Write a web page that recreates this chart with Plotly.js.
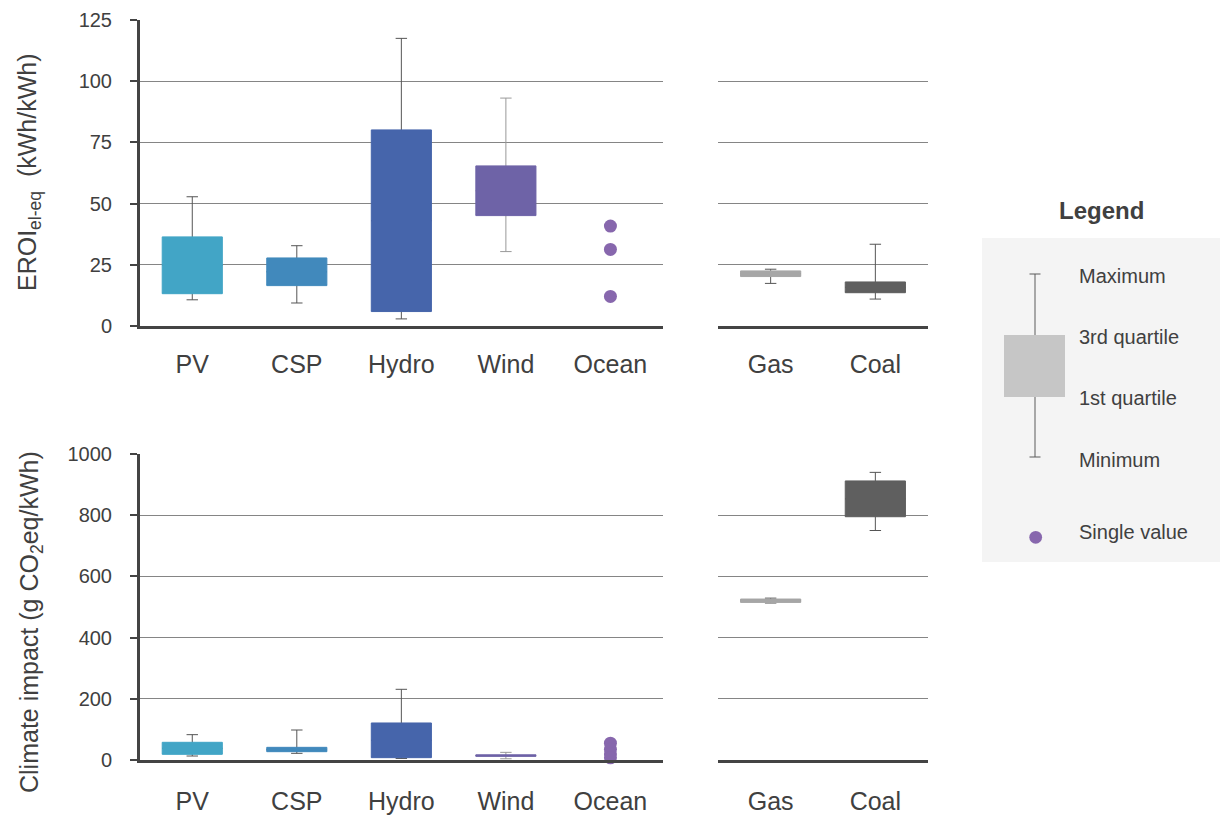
<!DOCTYPE html>
<html><head><meta charset="utf-8">
<script src="https://cdn.plot.ly/plotly-3.0.1.min.js"></script>
<style>html,body{margin:0;padding:0;background:#fff}#chart{width:1226px;height:816px}</style>
</head><body><div id="chart"></div>
<script>
// ---- data ----
const renewables = ['PV', 'CSP', 'Hydro', 'Wind', 'Ocean'];
const fossils = ['Gas', 'Coal'];
const boxCategories = ['PV', 'CSP', 'Hydro', 'Wind', 'Gas', 'Coal'];
const eroiMin = [10.7, 9.4, 2.9, 30.4, 17.4, 11.0];
const eroiQ1  = [13.2, 16.5, 5.9, 45.1, 20.2, 13.6];
const eroiQ3  = [36.4, 27.8, 80.1, 65.4, 22.5, 18.0];
const eroiMax = [52.8, 32.8, 117.5, 93.1, 23.2, 33.4];
const oceanEroi = [40.8, 31.3, 12.1];
const climateMin = [13, 21.8, 5, 4, 513, 750];
const climateQ1  = [18.5, 27.2, 7.6, 12, 515, 795];
const climateQ3  = [57.8, 41.4, 121, 17, 526, 912];
const climateMax = [82.8, 98, 231, 25, 529, 940];
const oceanClimate = [55, 35, 20, 7];
const eroiTicks = [0, 25, 50, 75, 100, 125];
const climateTicks = [0, 200, 400, 600, 800, 1000];
const legendLabels = ['Maximum', '3rd quartile', '1st quartile', 'Minimum', 'Single value'];

// ---- styles ----
const W = 1226, H = 816;
const FONT = 'Liberation Sans, Arial, sans-serif';
const TXT = '#404040';
const colors = {PV:'#42A5C6', CSP:'#4189BC', Hydro:'#4665AB', Wind:'#6E63A7', Gas:'#A6A6A6', Coal:'#5F5F5F'};
const whiskerColors = {PV:'#555555', CSP:'#555555', Hydro:'#555555', Wind:'#999999', Gas:'#555555', Coal:'#555555'};
const oceanColor = '#8767AD';
const BOXW = 0.575;
const px = x => x / W;
const py = y => 1 - y / H;

function boxTraces(mins, q1s, q3s, maxs, axL, axR) {
  const out = [];
  boxCategories.forEach((c, i) => {
    const ax = fossils.includes(c) ? axR : axL;
    const mid = (q1s[i] + q3s[i]) / 2;
    out.push({type:'box', x:[c], q1:[mid], median:[mid], q3:[mid],
      lowerfence:[mins[i]], upperfence:[maxs[i]], xaxis:ax[0], yaxis:ax[1],
      width:BOXW, whiskerwidth:0.19, fillcolor:'rgba(0,0,0,0)',
      line:{color:whiskerColors[c], width:1}, boxpoints:false, hoverinfo:'skip'});
    out.push({type:'box', x:[c], q1:[q1s[i]], median:[q1s[i]], q3:[q3s[i]],
      lowerfence:[q1s[i]], upperfence:[q3s[i]], xaxis:ax[0], yaxis:ax[1],
      width:BOXW, whiskerwidth:0, fillcolor:colors[c],
      line:{color:colors[c], width:1}, boxpoints:false, hoverinfo:'skip'});
  });
  return out;
}

const data = [].concat(
  boxTraces(eroiMin, eroiQ1, eroiQ3, eroiMax, ['x','y'], ['x2','y2']),
  boxTraces(climateMin, climateQ1, climateQ3, climateMax, ['x3','y3'], ['x4','y4']),
  [
    {type:'scatter', mode:'markers', x:oceanEroi.map(() => 'Ocean'), y:oceanEroi, xaxis:'x', yaxis:'y',
     marker:{size:13, color:oceanColor}, cliponaxis:false, hoverinfo:'skip'},
    {type:'scatter', mode:'markers', x:oceanClimate.map(() => 'Ocean'), y:oceanClimate, xaxis:'x3', yaxis:'y3',
     marker:{size:13, color:oceanColor}, cliponaxis:false, hoverinfo:'skip'}
  ]
);

const xDomL = [px(140), px(662.7)];
const xDomR = [px(718.3), px(927.7)];
const yDomT = [py(326), py(20)];
const yDomB = [py(760), py(454)];

function xAxis(cats, dom, anchor, standoff) {
  return {domain:dom, anchor:anchor, type:'category', categoryorder:'array', categoryarray:cats,
    range:[-0.5, cats.length - 0.5], showline:true, linecolor:'#444444', linewidth:3,
    ticks:'', showgrid:false, zeroline:false, ticklabelstandoff:standoff,
    tickfont:{family:FONT, size:25, color:TXT}, fixedrange:true};
}
function yAxis(dom, anchor, rng, ticks, left) {
  return {domain:dom, anchor:anchor, range:rng, tickvals:ticks, ticktext:ticks.map(String),
    showgrid:true, gridcolor:'#858585', gridwidth:1, zeroline:false,
    showline:left, linecolor:'#444444', linewidth:3,
    ticks:left ? 'outside' : '', ticklen:7, tickwidth:2, tickcolor:'#444444',
    showticklabels:left, ticklabelstandoff:14,
    tickfont:{family:FONT, size:20, color:TXT}, fixedrange:true};
}

const shapes = [
  {type:'rect', xref:'paper', yref:'paper', x0:px(982), x1:px(1220), y0:py(562), y1:py(238),
   fillcolor:'#F4F4F4', line:{width:0}, layer:'below'},
  {type:'line', xref:'paper', yref:'paper', x0:px(1035), x1:px(1035), y0:py(274), y1:py(457),
   line:{color:'#5a5a5a', width:1}},
  {type:'line', xref:'paper', yref:'paper', x0:px(1029.5), x1:px(1040.5), y0:py(274), y1:py(274),
   line:{color:'#5a5a5a', width:1}},
  {type:'line', xref:'paper', yref:'paper', x0:px(1029.5), x1:px(1040.5), y0:py(457), y1:py(457),
   line:{color:'#5a5a5a', width:1}},
  {type:'rect', xref:'paper', yref:'paper', x0:px(1004), x1:px(1065), y0:py(397), y1:py(335),
   fillcolor:'#C6C6C6', line:{width:0}},
  {type:'circle', xref:'paper', yref:'paper', x0:px(1029.3), x1:px(1042.1), y0:py(543.7), y1:py(530.9),
   fillcolor:oceanColor, line:{width:0}}
];

const legendY = [275.7, 336.7, 398.3, 460, 531.7];
const annotations = [
  {xref:'paper', yref:'paper', x:px(1101.7), y:py(211), xanchor:'center', yanchor:'middle', showarrow:false,
   text:'<b>Legend</b>', font:{family:FONT, size:24, color:TXT}},
  {xref:'paper', yref:'paper', x:px(29), y:py(172), xanchor:'center', yanchor:'middle', showarrow:false,
   textangle:-90, text:'EROI<sub>el-eq</sub>  (kWh/kWh)', font:{family:FONT, size:25, color:TXT}},
  {xref:'paper', yref:'paper', x:px(31), y:py(622), xanchor:'center', yanchor:'middle', showarrow:false,
   textangle:-90, text:'Climate impact (g CO<sub>2</sub>eq/kWh)', font:{family:FONT, size:25, color:TXT}}
].concat(legendLabels.map((t, i) => ({xref:'paper', yref:'paper', x:px(1077), y:py(legendY[i]),
   xanchor:'left', yanchor:'middle', showarrow:false, text:t, font:{family:FONT, size:20, color:TXT}})));

const layout = {
  width:W, height:H, margin:{l:0, r:0, t:0, b:0},
  paper_bgcolor:'#ffffff', plot_bgcolor:'#ffffff', showlegend:false, boxmode:'overlay',
  font:{family:FONT, color:TXT},
  xaxis:xAxis(renewables, xDomL, 'y', 14),
  yaxis:yAxis(yDomT, 'x', [0, 125], eroiTicks, true),
  xaxis2:xAxis(fossils, xDomR, 'y2', 14),
  yaxis2:yAxis(yDomT, 'x2', [0, 125], eroiTicks, false),
  xaxis3:xAxis(renewables, xDomL, 'y3', 17),
  yaxis3:yAxis(yDomB, 'x3', [0, 1000], climateTicks, true),
  xaxis4:xAxis(fossils, xDomR, 'y4', 17),
  yaxis4:yAxis(yDomB, 'x4', [0, 1000], climateTicks, false),
  shapes:shapes, annotations:annotations
};

Plotly.newPlot('chart', data, layout, {displayModeBar:false, staticPlot:true});
</script>
</body></html>
